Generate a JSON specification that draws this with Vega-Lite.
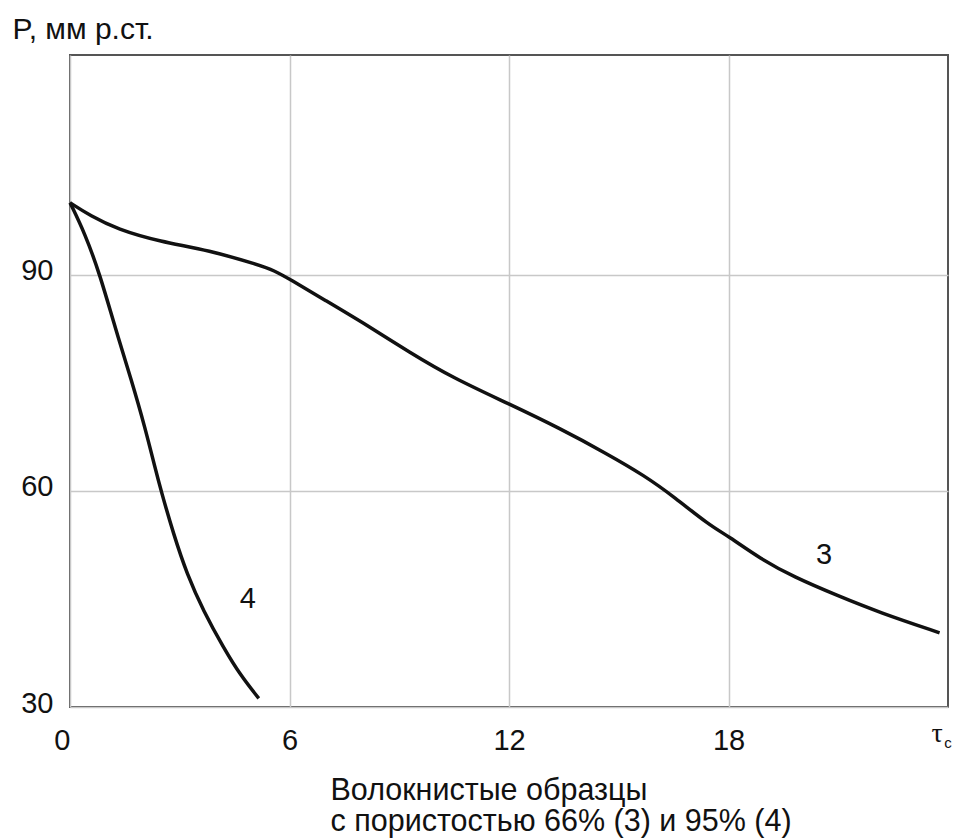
{
  "$schema": "https://vega.github.io/schema/vega-lite/v6.json",
  "width": 878,
  "height": 652,
  "autosize": {"type": "none"},
  "padding": {"left": 70, "top": 55, "right": 7, "bottom": 131},
  "background": "white",
  "config": {
    "view": {"stroke": "#555555", "strokeWidth": 2},
    "font": "Liberation Sans"
  },
  "datasets": {
    "curves": [
      {"series": "3", "t": 0, "p": 100},
      {"series": "3", "t": 0.55, "p": 98.2},
      {"series": "3", "t": 1.3, "p": 96.3},
      {"series": "3", "t": 2.45, "p": 94.6},
      {"series": "3", "t": 3.8, "p": 93.4},
      {"series": "3", "t": 5.2, "p": 91.3},
      {"series": "3", "t": 5.57, "p": 90.6},
      {"series": "3", "t": 6.0, "p": 89.4},
      {"series": "3", "t": 6.96, "p": 86.5},
      {"series": "3", "t": 8.12, "p": 83.0},
      {"series": "3", "t": 9.29, "p": 79.2},
      {"series": "3", "t": 10.46, "p": 75.7},
      {"series": "3", "t": 12.03, "p": 72.0},
      {"series": "3", "t": 13.38, "p": 68.7},
      {"series": "3", "t": 14.66, "p": 65.2},
      {"series": "3", "t": 15.71, "p": 62.1},
      {"series": "3", "t": 16.53, "p": 59.1},
      {"series": "3", "t": 17.46, "p": 55.3},
      {"series": "3", "t": 18.0, "p": 53.7},
      {"series": "3", "t": 18.86, "p": 50.6},
      {"series": "3", "t": 19.8, "p": 48.0},
      {"series": "3", "t": 20.96, "p": 45.5},
      {"series": "3", "t": 22.13, "p": 43.1},
      {"series": "3", "t": 23.77, "p": 40.3},
      {"series": "4", "t": 0, "p": 100},
      {"series": "4", "t": 0.41, "p": 95.7},
      {"series": "4", "t": 0.82, "p": 90.0},
      {"series": "4", "t": 1.23, "p": 82.7},
      {"series": "4", "t": 1.69, "p": 75.2},
      {"series": "4", "t": 2.05, "p": 68.8},
      {"series": "4", "t": 2.33, "p": 63.1},
      {"series": "4", "t": 2.49, "p": 60.0},
      {"series": "4", "t": 2.83, "p": 54.0},
      {"series": "4", "t": 3.2, "p": 48.4},
      {"series": "4", "t": 3.65, "p": 43.3},
      {"series": "4", "t": 4.2, "p": 38.2},
      {"series": "4", "t": 4.66, "p": 34.4},
      {"series": "4", "t": 5.16, "p": 31.2}
    ],
    "labels": [
      {"label": "3", "t": 20.61, "p": 51.1},
      {"label": "4", "t": 4.86, "p": 45.0}
    ],
    "tau": [{"label": "τ", "t": 23.55, "p": 25.1}],
    "tausub": [{"label": "c", "t": 23.9, "p": 24.3}]
  },
  "layer": [
    {
      "data": {"name": "curves"},
      "mark": {"type": "line", "interpolate": "basis", "stroke": "#111111", "strokeWidth": 3.5},
      "encoding": {
        "x": {
          "field": "t",
          "type": "quantitative",
          "scale": {"domain": [0, 24], "nice": false, "zero": false},
          "axis": {
            "values": [0, 6, 12, 18],
            "ticks": false,
            "domain": false,
            "grid": true,
            "gridColor": "#c8c8c8",
            "gridWidth": 1.5,
            "labelFontSize": 29,
            "labelColor": "#111111",
            "labelPadding": 19,
            "labelAlign": {"condition": {"test": "datum.value == 0", "value": "right"}, "value": "center"},
            "title": ["Волокнистые образцы", "с пористостью 66% (3) и 95% (4)"],
            "titleFontSize": 30.5,
            "titleFontWeight": "normal",
            "titleColor": "#111111",
            "titleAlign": "left",
            "titleAnchor": "start",
            "titleX": 260,
            "titleY": 92,
            "titleBaseline": "alphabetic",
            "titleLineHeight": 31
          }
        },
        "y": {
          "field": "p",
          "type": "quantitative",
          "scale": {"domain": [30, 120.5], "nice": false, "zero": false},
          "axis": {
            "values": [30, 60, 90],
            "ticks": false,
            "domain": false,
            "grid": true,
            "gridColor": "#c8c8c8",
            "gridWidth": 1.5,
            "labelFontSize": 29,
            "labelColor": "#111111",
            "labelPadding": 17,
            "labelOffset": -4,
            "title": "P, мм р.ст.",
            "titleAngle": 0,
            "titleFontSize": 30,
            "titleFontWeight": "normal",
            "titleColor": "#111111",
            "titleAlign": "left",
            "titleBaseline": "alphabetic",
            "titleX": -58,
            "titleY": -17
          }
        },
        "detail": {"field": "series"}
      }
    },
    {
      "data": {"name": "labels"},
      "mark": {"type": "text", "fontSize": 29, "align": "center", "baseline": "middle", "color": "#111111"},
      "encoding": {
        "x": {"field": "t", "type": "quantitative"},
        "y": {"field": "p", "type": "quantitative"},
        "text": {"field": "label"}
      }
    },
    {
      "data": {"name": "tau"},
      "mark": {"type": "text", "font": "Liberation Serif", "fontSize": 28, "align": "left", "baseline": "alphabetic", "color": "#111111", "clip": false},
      "encoding": {
        "x": {"field": "t", "type": "quantitative"},
        "y": {"field": "p", "type": "quantitative"},
        "text": {"field": "label"}
      }
    },
    {
      "data": {"name": "tausub"},
      "mark": {"type": "text", "fontSize": 15, "align": "left", "baseline": "alphabetic", "color": "#111111", "clip": false},
      "encoding": {
        "x": {"field": "t", "type": "quantitative"},
        "y": {"field": "p", "type": "quantitative"},
        "text": {"field": "label"}
      }
    }
  ]
}
